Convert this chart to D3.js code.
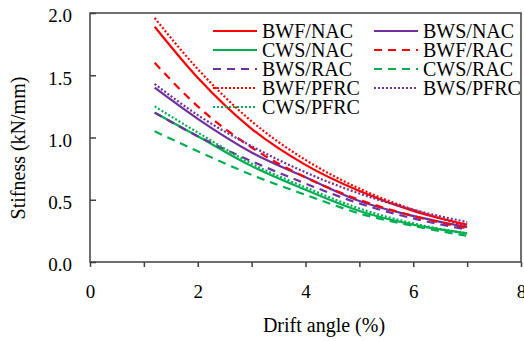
<!DOCTYPE html>
<html>
<head>
<meta charset="utf-8">
<script src="https://cdn.jsdelivr.net/npm/d3@7"></script>
<style>
  body { margin: 0; background: #fff; }
  svg text { font-family: "Liberation Serif", "Times New Roman", "DejaVu Serif", serif; fill: #000; }
</style>
</head>
<body>
<div id="chart"></div>
<script>
// drift angle (%) at which stiffness was read
var drift = [1.2, 2, 3, 4, 5, 6, 7];

// stiffness (kN/mm), one array per specimen
var bwfNac  = [1.89, 1.48, 1.07, 0.78, 0.57, 0.41, 0.30];
var bwsNac  = [1.40, 1.15, 0.88, 0.68, 0.49, 0.37, 0.28];
var cwsNac  = [1.20, 1.01, 0.77, 0.58, 0.41, 0.30, 0.23];
var bwfRac  = [1.60, 1.25, 0.92, 0.68, 0.50, 0.37, 0.27];
var bwsRac  = [1.20, 1.01, 0.81, 0.63, 0.47, 0.35, 0.26];
var cwsRac  = [1.05, 0.89, 0.70, 0.54, 0.39, 0.29, 0.21];
var bwfPfrc = [1.96, 1.55, 1.13, 0.82, 0.59, 0.42, 0.29];
var bwsPfrc = [1.43, 1.18, 0.93, 0.72, 0.55, 0.42, 0.32];
var cwsPfrc = [1.25, 1.04, 0.79, 0.60, 0.43, 0.31, 0.23];

var xTicks = [0, 1, 2, 3, 4, 5, 6, 7, 8];
var xLabels = [0, 2, 4, 6, 8];
var yTicks = [0, 0.5, 1.0, 1.5, 2.0];

var FONT = "'Liberation Serif', 'Times New Roman', 'DejaVu Serif', serif";
var RED = "#ff0000", PURPLE = "#7030a0", GREEN = "#00b050";
var SOLID = null, DASH = "8,6", DOT = "2,2";

// legend order: row by row, two columns
var series = [
  { name: "BWF/NAC",  values: bwfNac,  color: RED,    dash: SOLID },
  { name: "BWS/NAC",  values: bwsNac,  color: PURPLE, dash: SOLID },
  { name: "CWS/NAC",  values: cwsNac,  color: GREEN,  dash: SOLID },
  { name: "BWF/RAC",  values: bwfRac,  color: RED,    dash: DASH },
  { name: "BWS/RAC",  values: bwsRac,  color: PURPLE, dash: DASH },
  { name: "CWS/RAC",  values: cwsRac,  color: GREEN,  dash: DASH },
  { name: "BWF/PFRC", values: bwfPfrc, color: RED,    dash: DOT },
  { name: "BWS/PFRC", values: bwsPfrc, color: PURPLE, dash: DOT },
  { name: "CWS/PFRC", values: cwsPfrc, color: GREEN,  dash: DOT }
];

var W = 524, H = 341;
var margin = { left: 90, top: 13, right: 3, bottom: 79 };

var svg = d3.select("#chart").append("svg")
  .attr("width", W).attr("height", H);

var x = d3.scaleLinear().domain([0, 8]).range([margin.left, W - margin.right]);
var y = d3.scaleLinear().domain([0, 2]).range([H - margin.bottom, margin.top]);

//////////////////////////////////
// curves
var line = d3.line()
  .x(function(d) { return x(d[0]); })
  .y(function(d) { return y(d[1]); })
  .curve(d3.curveMonotoneX);

svg.append("g").selectAll("path.curve")
  .data(series)
.enter()
  .append("path")
  .attr("class", "curve")
  .attr("d", function(s) { return line(d3.zip(drift, s.values)); })
  .attr("fill", "none")
  .attr("stroke", function(s) { return s.color; })
  .attr("stroke-width", 2.2)
  .attr("stroke-dasharray", function(s) { return s.dash; });

//////////////////////////////////
// axes
var xAxis = svg.append("g")
  .attr("transform", "translate(0," + y(0) + ")")
  .call(d3.axisBottom(x).tickValues(xTicks).tickSize(5).tickFormat(function(d) {
    return xLabels.indexOf(d) >= 0 ? d : "";
  }));
xAxis.select(".domain").remove();
xAxis.selectAll(".tick line").attr("stroke", "#404040").attr("stroke-width", 1.5);
xAxis.selectAll(".tick text")
  .style("font-family", FONT).attr("font-size", 19)
  .attr("dy", null).attr("y", 36);

var yAxis = svg.append("g")
  .attr("transform", "translate(" + x(0) + ",0)")
  .call(d3.axisRight(y).tickValues(yTicks).tickSize(6).tickFormat(d3.format(".1f")));
yAxis.select(".domain").remove();
yAxis.selectAll(".tick line").attr("stroke", "#404040").attr("stroke-width", 1.5);
yAxis.selectAll(".tick text")
  .style("font-family", FONT).attr("font-size", 19)
  .attr("text-anchor", "end").attr("x", -18).attr("dy", "0.47em");

// plot frame
svg.append("rect")
  .attr("x", x(0)).attr("y", y(2))
  .attr("width", x(8) - x(0)).attr("height", y(0) - y(2))
  .attr("fill", "none").attr("stroke", "#404040").attr("stroke-width", 1.5);

// axis titles
svg.append("text")
  .attr("x", 324).attr("y", 332)
  .attr("text-anchor", "middle").attr("font-size", 20)
  .style("font-family", FONT)
  .text("Drift angle (%)");

svg.append("text")
  .attr("transform", "translate(25,148) rotate(-90)")
  .attr("text-anchor", "middle").attr("font-size", 20)
  .style("font-family", FONT)
  .text("Stifness (kN/mm)");

//////////////////////////////////
// legend
var legend = svg.append("g").selectAll("g.item")
  .data(series)
.enter()
  .append("g")
  .attr("class", "item")
  .attr("transform", function(s, i) {
    var col = i % 2, row = Math.floor(i / 2);
    return "translate(" + (col ? 374 : 213) + "," + (31 + row * 19) + ")";
  });

legend.append("line")
  .attr("x1", 0).attr("x2", 44).attr("y1", 0).attr("y2", 0)
  .attr("stroke", function(s) { return s.color; })
  .attr("stroke-width", 2.2)
  .attr("stroke-dasharray", function(s) { return s.dash; });

legend.append("text")
  .attr("x", 49).attr("y", 7)
  .attr("font-size", 20)
  .style("font-family", FONT)
  .text(function(s) { return s.name; });
</script>
</body>
</html>
